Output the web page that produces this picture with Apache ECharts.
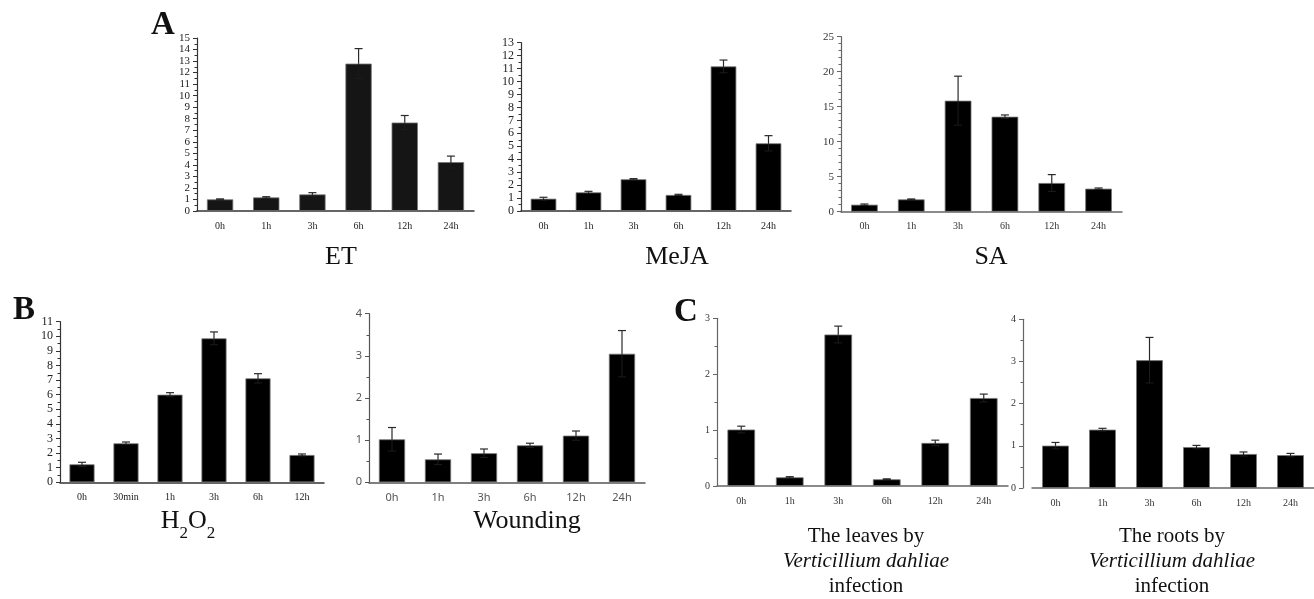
<!DOCTYPE html>
<html>
<head>
<meta charset="utf-8">
<script src="https://cdn.jsdelivr.net/npm/echarts@6/dist/echarts.min.js"></script>
<style>html,body{margin:0;padding:0;background:#fff;}#c{width:1314px;height:599px;}</style>
</head>
<body>
<div id="c"></div>
<script>
// ---- data ----
const CATS_TIME = ['0h', '1h', '3h', '6h', '12h', '24h'];
const CATS_H2O2 = ['0h', '30min', '1h', '3h', '6h', '12h'];

const ET_VALUES = [1.01, 1.18, 1.44, 12.78, 7.67, 4.24];
const ET_ERR = [0.04, 0.06, 0.15, 1.30, 0.61, 0.52];

const MEJA_VALUES = [0.95, 1.44, 2.45, 1.24, 11.17, 5.23];
const MEJA_ERR = [0.11, 0.08, 0.05, 0.05, 0.49, 0.59];

const SA_VALUES = [1.00, 1.76, 15.86, 13.57, 4.10, 3.29];
const SA_ERR = [0.10, 0.06, 3.50, 0.25, 1.20, 0.10];

const H2O2_VALUES = [1.23, 2.67, 6.00, 9.86, 7.12, 1.87];
const H2O2_ERR = [0.14, 0.09, 0.14, 0.44, 0.32, 0.07];

const WOUND_VALUES = [1.02, 0.545, 0.69, 0.877, 1.107, 3.05];
const WOUND_ERR = [0.28, 0.125, 0.10, 0.05, 0.11, 0.55];

const LEAVES_VALUES = [1.01, 0.155, 2.71, 0.12, 0.77, 1.574];
const LEAVES_ERR = [0.06, 0.012, 0.15, 0.008, 0.05, 0.07];

const ROOTS_VALUES = [1.004, 1.383, 3.03, 0.97, 0.806, 0.78];
const ROOTS_ERR = [0.076, 0.032, 0.54, 0.04, 0.048, 0.04];

// y axis tick settings: [max, interval, minor splits]
const ET_Y = [15, 1, 2];
const MEJA_Y = [13, 1, 2];
const SA_Y = [25, 5, 5];
const H2O2_Y = [11, 1, 2];
const WOUND_Y = [4, 1, 2];
const LEAVES_Y = [3, 1, 2];
const ROOTS_Y = [4, 1, 2];

// ---- layout / style ----
const SERIF = '"Liberation Serif", "DejaVu Serif", serif';
const SANS = '"Noto Sans", "Liberation Sans", sans-serif';

const panels = [
  {cats: CATS_TIME, vals: ET_VALUES, err: ET_ERR, y: ET_Y, grid: {left: 197, top: 38, width: 277, height: 173},
   font: SERIF, ySize: 11, xSize: 10, axisColor: '#333', labelColor: '#222', barColor: '#151515'},
  {cats: CATS_TIME, vals: MEJA_VALUES, err: MEJA_ERR, y: MEJA_Y, grid: {left: 521, top: 42.7, width: 270, height: 168.3},
   font: SERIF, ySize: 12, xSize: 10, axisColor: '#333', labelColor: '#222', barColor: '#000'},
  {cats: CATS_TIME, vals: SA_VALUES, err: SA_ERR, y: SA_Y, grid: {left: 841, top: 36.7, width: 281, height: 175},
   font: SERIF, ySize: 11, xSize: 10, axisColor: '#666', labelColor: '#333', barColor: '#000'},
  {cats: CATS_H2O2, vals: H2O2_VALUES, err: H2O2_ERR, y: H2O2_Y, grid: {left: 60, top: 321.7, width: 264, height: 160.6},
   font: SERIF, ySize: 12, xSize: 10, axisColor: '#333', labelColor: '#222', barColor: '#000'},
  {cats: CATS_TIME, vals: WOUND_VALUES, err: WOUND_ERR, y: WOUND_Y, grid: {left: 369, top: 313.7, width: 276, height: 168.6},
   font: SANS, ySize: 11, xSize: 11, axisColor: '#555', labelColor: '#555', barColor: '#000'},
  {cats: CATS_TIME, vals: LEAVES_VALUES, err: LEAVES_ERR, y: LEAVES_Y, grid: {left: 717, top: 318.3, width: 291, height: 167.7},
   font: SERIF, ySize: 10, xSize: 10, axisColor: '#666', labelColor: '#333', barColor: '#000'},
  {cats: CATS_TIME, vals: ROOTS_VALUES, err: ROOTS_ERR, y: ROOTS_Y, grid: {left: 1032, top: 319.3, width: 284, height: 168.7},
   font: SERIF, ySize: 10, xSize: 10, axisColor: '#666', labelColor: '#333', barColor: '#000', yOffset: 9}
];

function errRender(params, api) {
  const x = api.value(0), v = api.value(1), e = api.value(2);
  const t = api.coord([x, v + e]);
  const m = api.coord([x, v]);
  const b = api.coord([x, v - e]);
  const hw = 4;
  const st = {stroke: '#2a2a2a', lineWidth: 1.2};
  const lo = {stroke: '#1c1c1c', lineWidth: 1};
  return {type: 'group', children: [
    {type: 'line', shape: {x1: t[0], y1: t[1], x2: m[0], y2: m[1]}, style: st},
    {type: 'line', shape: {x1: t[0] - hw, y1: t[1], x2: t[0] + hw, y2: t[1]}, style: st},
    {type: 'line', shape: {x1: m[0], y1: m[1], x2: b[0], y2: b[1]}, style: lo},
    {type: 'line', shape: {x1: b[0] - hw, y1: b[1], x2: b[0] + hw, y2: b[1]}, style: lo}
  ]};
}

const grid = [], xAxis = [], yAxis = [], series = [];
panels.forEach((p, i) => {
  grid.push(Object.assign({containLabel: false}, p.grid));
  xAxis.push({
    type: 'category', gridIndex: i, data: p.cats, boundaryGap: true,
    axisLine: {lineStyle: {color: p.axisColor, width: 1.5}},
    axisTick: {show: false},
    axisLabel: {fontFamily: p.font, fontSize: p.xSize, color: p.labelColor, margin: 10, interval: 0},
    splitLine: {show: false}
  });
  yAxis.push({
    type: 'value', gridIndex: i, min: 0, max: p.y[0], interval: p.y[1], offset: p.yOffset || 0,
    axisLine: {show: true, lineStyle: {color: p.axisColor, width: 1.2}},
    axisTick: {show: true, length: 4, lineStyle: {color: p.axisColor}},
    minorTick: {show: true, splitNumber: p.y[2], length: 2.5, lineStyle: {color: p.axisColor}},
    axisLabel: {fontFamily: p.font, fontSize: p.ySize, color: p.labelColor, margin: 7,
                showMinLabel: true, showMaxLabel: true, hideOverlap: false},
    splitLine: {show: false}
  });
  series.push({
    type: 'bar', xAxisIndex: i, yAxisIndex: i, data: p.vals, barWidth: '57%',
    itemStyle: {color: p.barColor, borderColor: '#777', borderWidth: 0.8},
    silent: true, animation: false
  });
  series.push({
    type: 'custom', xAxisIndex: i, yAxisIndex: i, renderItem: errRender,
    data: p.vals.map((v, k) => [k, v, p.err[k]]),
    encode: {x: 0, y: 1}, z: 5, silent: true, animation: false
  });
});

function txt(text, x, y, size, extra) {
  return {type: 'text', x: x, y: y, silent: true, style: Object.assign({
    text: text, fontFamily: SERIF, fontSize: size, fill: '#111', align: 'center', verticalAlign: 'middle'
  }, extra || {})};
}

const graphic = [
  txt('A', 163, 25, 33, {fontWeight: 'bold'}),
  txt('B', 24, 310, 33, {fontWeight: 'bold'}),
  txt('C', 686, 312, 33, {fontWeight: 'bold'}),
  txt('ET', 341, 257, 26),
  txt('MeJA', 677, 257, 26),
  txt('SA', 991, 257, 26),
  txt('H{s|2}O{s|2}', 188, 521, 26, {rich: {s: {fontFamily: SERIF, fontSize: 17, fill: '#111', verticalAlign: 'bottom', padding: [0, 0, -8, 0]}}}),
  txt('Wounding', 527, 521, 26),
  txt('{n|The leaves by}\n{i|Verticillium dahliae}\n{n|infection}', 866, 561, 21,
      {rich: {n: {fontFamily: SERIF, fontSize: 21, fill: '#111', lineHeight: 25}, i: {fontFamily: SERIF, fontSize: 21, fontStyle: 'italic', fill: '#111', lineHeight: 25}}}),
  txt('{n|The roots by}\n{i|Verticillium dahliae}\n{n|infection}', 1172, 561, 21,
      {rich: {n: {fontFamily: SERIF, fontSize: 21, fill: '#111', lineHeight: 25}, i: {fontFamily: SERIF, fontSize: 21, fontStyle: 'italic', fill: '#111', lineHeight: 25}}})
];

const chart = echarts.init(document.getElementById('c'), null, {renderer: 'canvas'});
chart.setOption({backgroundColor: '#fff', animation: false, grid, xAxis, yAxis, series, graphic});
</script>
</body>
</html>
